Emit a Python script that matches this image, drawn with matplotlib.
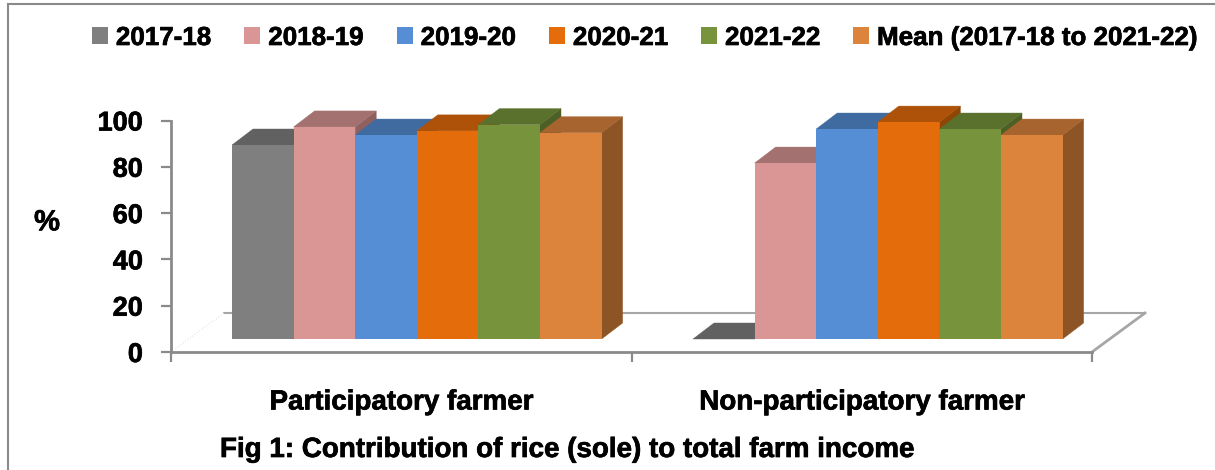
# -*- coding: utf-8 -*-
import matplotlib
matplotlib.use('Agg')
import matplotlib.pyplot as plt
import matplotlib.patheffects as pe
from matplotlib.lines import Line2D
from matplotlib.patches import Polygon

plt.rcParams['font.family'] = ['Liberation Sans', 'DejaVu Sans']
plt.rcParams['font.weight'] = 'bold'

groups = ['Participatory farmer', 'Non-participatory farmer']
seasons = ['2017-18', '2018-19', '2019-20', '2020-21', '2021-22',
           'Mean (2017-18 to 2021-22)']
participatory = [83.8, 91.6, 88.1, 89.9, 92.6, 89.1]
non_participatory = [0, 76.0, 90.7, 93.7, 90.7, 88.1]

front_col = ['#7f7f7f', '#d99694', '#558ed5', '#e46c0a', '#77933c', '#dc843c']
top_col = ['#616161', '#a37170', '#406ba1', '#ad5208', '#5a702d', '#a7642e']
side_col = ['#555555', '#8e6160', '#38608f', '#8f4604', '#4c5f26', '#8d5426']

W, H = 1215, 470
axis_col = '#8a8a8a'
heavy = [pe.withStroke(linewidth=0.5, foreground='black')]

fig = plt.figure(figsize=(W / 100, H / 100), dpi=100)
ax = fig.add_axes([171 / W, (H - 352) / H, 921 / W, 231.5 / H])
ax.set_xlim(0, 2)
ax.set_ylim(0, 100)

# pixels to data units, the fake 3D is built from these
px_x = 2 / 921
px_y = 100 / 231.5
bar_w = 61.6 * px_x
base_y = 13 * px_y
depth_x = 21 * px_x
depth_y = 16 * px_y
floor_x = 53 * px_x
floor_y = 39 * px_y
group_left = [61 * px_x, 1 + 61.5 * px_x]


def poly(pts, col):
    ax.add_patch(Polygon(pts, closed=True, facecolor=col, edgecolor=col,
                         linewidth=0.3, zorder=4, clip_on=False))


# floor
ax.plot([floor_x, 2 + floor_x], [floor_y, floor_y], color='#a6a6a6', lw=1.5,
        zorder=1, clip_on=False)
ax.plot([2, 2 + floor_x], [0, floor_y], color='#a6a6a6', lw=2, zorder=1,
        clip_on=False)
ax.plot([0.01, floor_x], [1.5, floor_y], color='#e4e4e4', lw=0.8, ls=':',
        zorder=1, clip_on=False)

for g, values in enumerate([participatory, non_participatory]):
    for i, v in enumerate(values):
        x0 = group_left[g] + i * bar_w
        x1 = x0 + bar_w
        y0 = base_y
        y1 = base_y + v
        poly([(x1, y0), (x1 + depth_x, y0 + depth_y),
              (x1 + depth_x, y1 + depth_y), (x1, y1)], side_col[i])
        poly([(x0, y1), (x1, y1), (x1 + depth_x, y1 + depth_y),
              (x0 + depth_x, y1 + depth_y)], top_col[i])
        ax.bar(x0, v, bar_w, bottom=base_y, align='edge', color=front_col[i],
               zorder=5, label=seasons[i] if g == 0 else None, clip_on=False)

ax.set_yticks(range(0, 101, 20))
ax.set_xticks([0, 1, 2])
ax.set_xticklabels([])
ax.set_xticks([0.5, 1.5], minor=True)
ax.set_xticklabels(groups, minor=True, fontsize=20, fontweight='bold')
ax.tick_params(axis='x', which='major', length=7.2, width=1.6, color=axis_col)
ax.tick_params(axis='x', which='minor', length=0, pad=27)
ax.tick_params(axis='y', length=7.2, width=1.6, color=axis_col, pad=13,
               labelsize=19.5)
for s in ['top', 'right']:
    ax.spines[s].set_visible(False)
for s in ['left', 'bottom']:
    ax.spines[s].set_color(axis_col)
    ax.spines[s].set_linewidth(2)
ax.patch.set_alpha(0)

ax.set_ylabel('%', fontsize=21, fontweight='bold', rotation=0, labelpad=0,
              va='center', ha='center')
ax.yaxis.set_label_coords((47 - 171) / 921, 0.56)

leg = ax.legend(loc='center left', bbox_to_anchor=(92 / W, (H - 38) / H),
                bbox_transform=fig.transFigure, ncol=6, frameon=False,
                fontsize=18.7, handlelength=0.62, handleheight=0.62,
                handletextpad=0.3, columnspacing=1.27, borderpad=0, borderaxespad=0)

title = fig.text(567 / W, (H - 450) / H,
                 'Fig 1: Contribution of rice (sole) to total farm income',
                 ha='center', va='center', fontsize=20, fontweight='bold')

# the reference text is heavier than plain bold
texts = list(leg.get_texts()) + [title, ax.yaxis.label]
texts += ax.get_yticklabels() + ax.get_xticklabels(minor=True)
for t in texts:
    t.set_path_effects(heavy)

# outer frame
fig.add_artist(Line2D([8 / W, 8 / W], [0, (H - 4) / H], color=axis_col, lw=1.5))
fig.add_artist(Line2D([8 / W, 1], [(H - 4) / H, (H - 4) / H], color=axis_col, lw=1.5))

fig.savefig('out.png', dpi=100)
